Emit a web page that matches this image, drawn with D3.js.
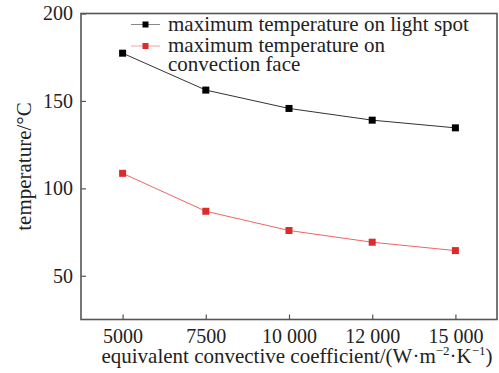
<!DOCTYPE html>
<html>
<head>
<meta charset="utf-8">
<script src="https://cdn.jsdelivr.net/npm/d3@7"></script>
<style>
  body { margin: 0; background: #fff; }
</style>
</head>
<body>
<div id="chart"></div>
<script>
var categories = ["5000", "7500", "10 000", "12 000", "15 000"];
var lightSpot = [177.3, 156.2, 145.7, 139.0, 134.6];
var convectionFace = [108.6, 86.9, 75.9, 69.2, 64.4];
var yTicks = [50, 100, 150, 200];

var FONT = "Liberation Serif";

var width = 499,
    height = 373,
    margin = {top: 13.5, right: 2, bottom: 53.5, left: 81};

var svg = d3.select("#chart")
  .append("svg")
  .attr("width", width)
  .attr("height", height)
  .attr("font-family", FONT);

var innerW = width - margin.left - margin.right,
    innerH = height - margin.top - margin.bottom;

var g = svg.append("g")
  .attr("transform", `translate(${margin.left},${margin.top})`);

var x = d3.scalePoint().domain(categories).range([0, innerW]).padding(0.5);
var y = d3.scaleLinear().domain([25, 200]).range([innerH, 0]);

// axes, ticks pointing inward
var xAxis = g.append("g")
  .attr("transform", `translate(0,${innerH})`)
  .call(d3.axisBottom(x).tickSize(-5).tickPadding(9));
var yAxis = g.append("g")
  .call(d3.axisLeft(y).tickValues(yTicks).tickSize(-5).tickPadding(8));

[xAxis, yAxis].forEach(a => {
  a.attr("font-family", FONT).attr("font-size", 20);
  a.select(".domain").remove();
  a.selectAll(".tick line").attr("stroke", "#555").attr("stroke-width", 1.2);
  a.selectAll(".tick text").attr("fill", "#222");
});

// frame
g.append("rect")
  .attr("x", 0).attr("y", 0)
  .attr("width", innerW).attr("height", innerH)
  .attr("fill", "none")
  .attr("stroke", "#555")
  .attr("stroke-width", 1.6);

var series = [
  {name: "maximum temperature on light spot", values: lightSpot, line: "#333", marker: "#000"},
  {name: "maximum temperature on convection face", values: convectionFace, line: "#f06464", marker: "#dd2a2a"}
];

var line = d3.line()
  .x((d, i) => x(categories[i]))
  .y(d => y(d));

series.forEach(s => {
  g.append("path")
    .datum(s.values)
    .attr("fill", "none")
    .attr("stroke", s.line)
    .attr("stroke-width", 1)
    .attr("d", line);
  g.selectAll(null)
    .data(s.values)
    .enter().append("rect")
    .attr("x", (d, i) => x(categories[i]) - 3.5)
    .attr("y", d => y(d) - 3.5)
    .attr("width", 7)
    .attr("height", 7)
    .attr("fill", s.marker);
});

// legend
var legend = svg.append("g");
var legendRows = [
  {y: 24.5, lines: ["maximum temperature on light spot"], line: "#888", marker: "#000"},
  {y: 46, lines: ["maximum temperature on", "convection face"], line: "#f4a0a0", marker: "#dd2a2a"}
];
legendRows.forEach(r => {
  legend.append("line")
    .attr("x1", 131).attr("x2", 160)
    .attr("y1", r.y).attr("y2", r.y)
    .attr("stroke", r.line).attr("stroke-width", 1);
  legend.append("rect")
    .attr("x", 142.5).attr("y", r.y - 3)
    .attr("width", 6).attr("height", 6)
    .attr("fill", r.marker);
  var t = legend.append("text")
    .attr("x", 168)
    .attr("y", r.y + 6)
    .attr("fill", "#222")
    .attr("font-family", FONT)
    .attr("font-size", 21);
  r.lines.forEach((l, i) => {
    t.append("tspan").attr("x", 168).attr("dy", i === 0 ? 0 : 18.5).text(l);
  });
});

// axis titles
svg.append("text")
  .attr("transform", `translate(31,${margin.top + innerH / 2}) rotate(-90)`)
  .attr("text-anchor", "middle")
  .attr("fill", "#222")
  .attr("font-family", FONT)
  .attr("font-size", 21)
  .text("temperature/°C");

var xt = svg.append("text")
  .attr("x", margin.left + innerW / 2 + 8)
  .attr("y", 363)
  .attr("text-anchor", "middle")
  .attr("fill", "#222")
  .attr("font-family", FONT)
  .attr("font-size", 21);
xt.append("tspan").text("equivalent convective coefficient/(W·m");
xt.append("tspan").attr("dy", -8).attr("font-size", 13).text("−2");
xt.append("tspan").attr("dy", 8).text("·K");
xt.append("tspan").attr("dy", -8).attr("font-size", 13).text("−1");
xt.append("tspan").attr("dy", 8).text(")");
</script>
</body>
</html>
